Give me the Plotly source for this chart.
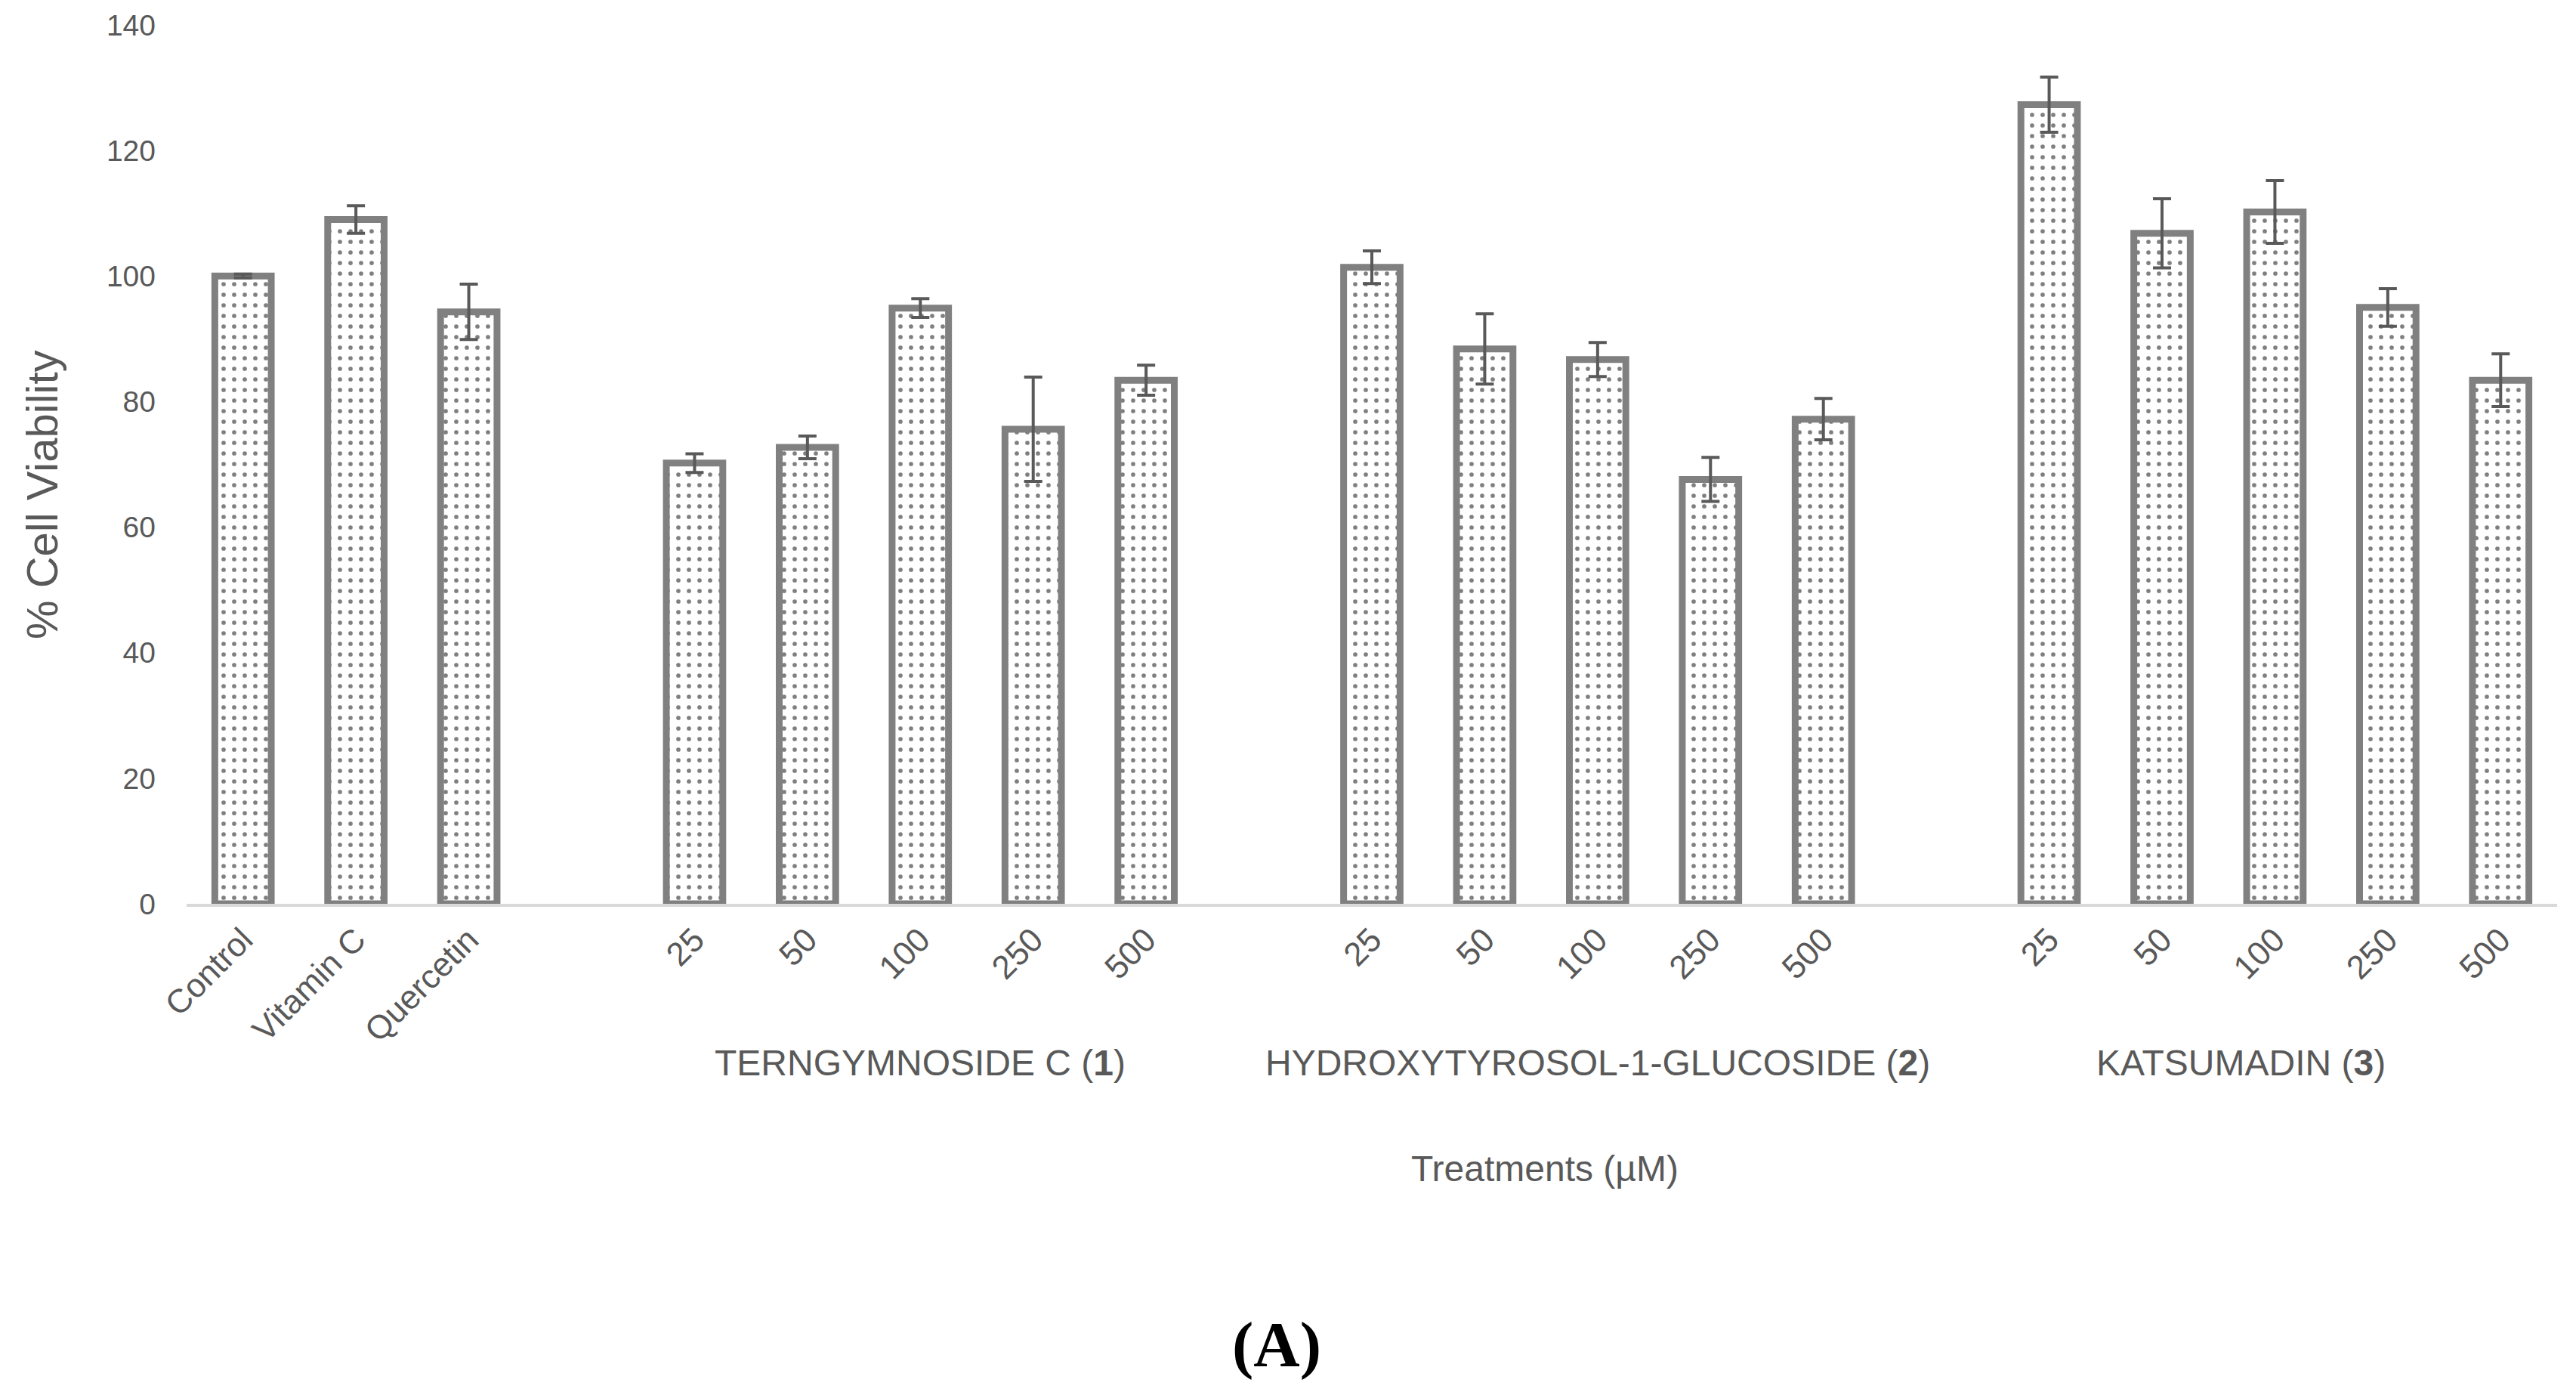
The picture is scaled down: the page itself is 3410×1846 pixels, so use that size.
import plotly.graph_objects as go

# Reference treatments
controls = ["Control", "Vitamin C", "Quercetin"]
control_vals = [100.0, 109.0, 94.3]
control_err = [0.3, 2.2, 4.4]

# Concentrations tested for each compound (µM)
concentrations = ["25", "50", "100", "250", "500"]

terngymnoside_vals = [70.2, 72.7, 94.9, 75.6, 83.4]
terngymnoside_err = [1.5, 1.8, 1.5, 8.3, 2.4]

hydroxytyrosol_vals = [101.4, 88.4, 86.7, 67.6, 77.2]
hydroxytyrosol_err = [2.6, 5.6, 2.7, 3.5, 3.3]

katsumadin_vals = [127.3, 106.8, 110.2, 95.0, 83.4]
katsumadin_err = [4.4, 5.5, 5.0, 3.0, 4.2]

group_names = [
    "TERNGYMNOSIDE C (<b>1</b>)",
    "HYDROXYTYROSOL-1-GLUCOSIDE (<b>2</b>)",
    "KATSUMADIN (<b>3</b>)",
]
y_ticks = [0, 20, 40, 60, 80, 100, 120, 140]

# Lay the bars out on slots, one empty slot between groups
labels, values, errors, positions = [], [], [], []
group_centres = []
slot = 0
for name, v, e in zip(controls, control_vals, control_err):
    labels.append(name); values.append(v); errors.append(e); positions.append(slot)
    slot += 1
for vals, errs in [(terngymnoside_vals, terngymnoside_err),
                   (hydroxytyrosol_vals, hydroxytyrosol_err),
                   (katsumadin_vals, katsumadin_err)]:
    slot += 1
    start = slot
    for c, v, e in zip(concentrations, vals, errs):
        labels.append(c); values.append(v); errors.append(e); positions.append(slot)
        slot += 1
    group_centres.append((start + slot - 1) / 2)

GREY_TEXT = "#595959"
FONT = "Liberation Sans, Arial, sans-serif"

fig = go.Figure(
    go.Bar(
        x=positions,
        y=values,
        width=0.5,
        marker=dict(
            color="white",
            line=dict(color="#808080", width=9),
            pattern=dict(shape=".", fgcolor="black", bgcolor="white",
                         size=14, solidity=0.13),
        ),
        error_y=dict(type="data", array=errors, visible=True,
                     color=GREY_TEXT, thickness=4, width=12),
        showlegend=False,
    )
)

fig.update_xaxes(
    range=[-0.5, slot - 0.5],
    tickmode="array",
    tickvals=positions,
    ticktext=labels,
    tickangle=-45,
    tickfont=dict(family=FONT, size=44, color=GREY_TEXT),
    showgrid=False,
    zeroline=False,
    showline=True,
    linecolor="#d9d9d9",
    linewidth=4,
    ticks="",
)
fig.update_yaxes(
    range=[0, 140],
    tickmode="array",
    tickvals=y_ticks,
    tickfont=dict(family=FONT, size=39, color=GREY_TEXT),
    showgrid=False,
    zeroline=False,
    showline=False,
    ticks="",
    ticklabelstandoff=40,
)

annotations = []
label_shift = [0, 0, -45]
for name, xc, sh in zip(group_names, group_centres, label_shift):
    annotations.append(dict(
        text=name, x=xc, xref="x", y=-0.181, yref="paper",
        xanchor="center", yanchor="middle", xshift=sh, showarrow=False,
        font=dict(family=FONT, size=48, color=GREY_TEXT),
    ))
annotations.append(dict(
    text="Treatments (µM)", x=0.573, xref="paper", y=-0.301, yref="paper",
    xanchor="center", yanchor="middle", showarrow=False,
    font=dict(family=FONT, size=48, color=GREY_TEXT),
))
annotations.append(dict(
    text="% Cell Viability", x=-0.0612, xref="paper", y=0.466, yref="paper",
    xanchor="center", yanchor="middle", textangle=-90, showarrow=False,
    font=dict(family=FONT, size=58, color=GREY_TEXT),
))
annotations.append(dict(
    text="<b>(A)</b>", x=0.46, xref="paper", y=-0.502, yref="paper",
    xanchor="center", yanchor="middle", showarrow=False,
    font=dict(family="Liberation Serif, Times New Roman, serif", size=85, color="black"),
))

fig.update_layout(
    width=3410,
    height=1846,
    margin=dict(l=247, r=25, t=31, b=650),
    plot_bgcolor="white",
    paper_bgcolor="white",
    bargap=0.5,
    annotations=annotations,
)

fig.write_html("out.html")
